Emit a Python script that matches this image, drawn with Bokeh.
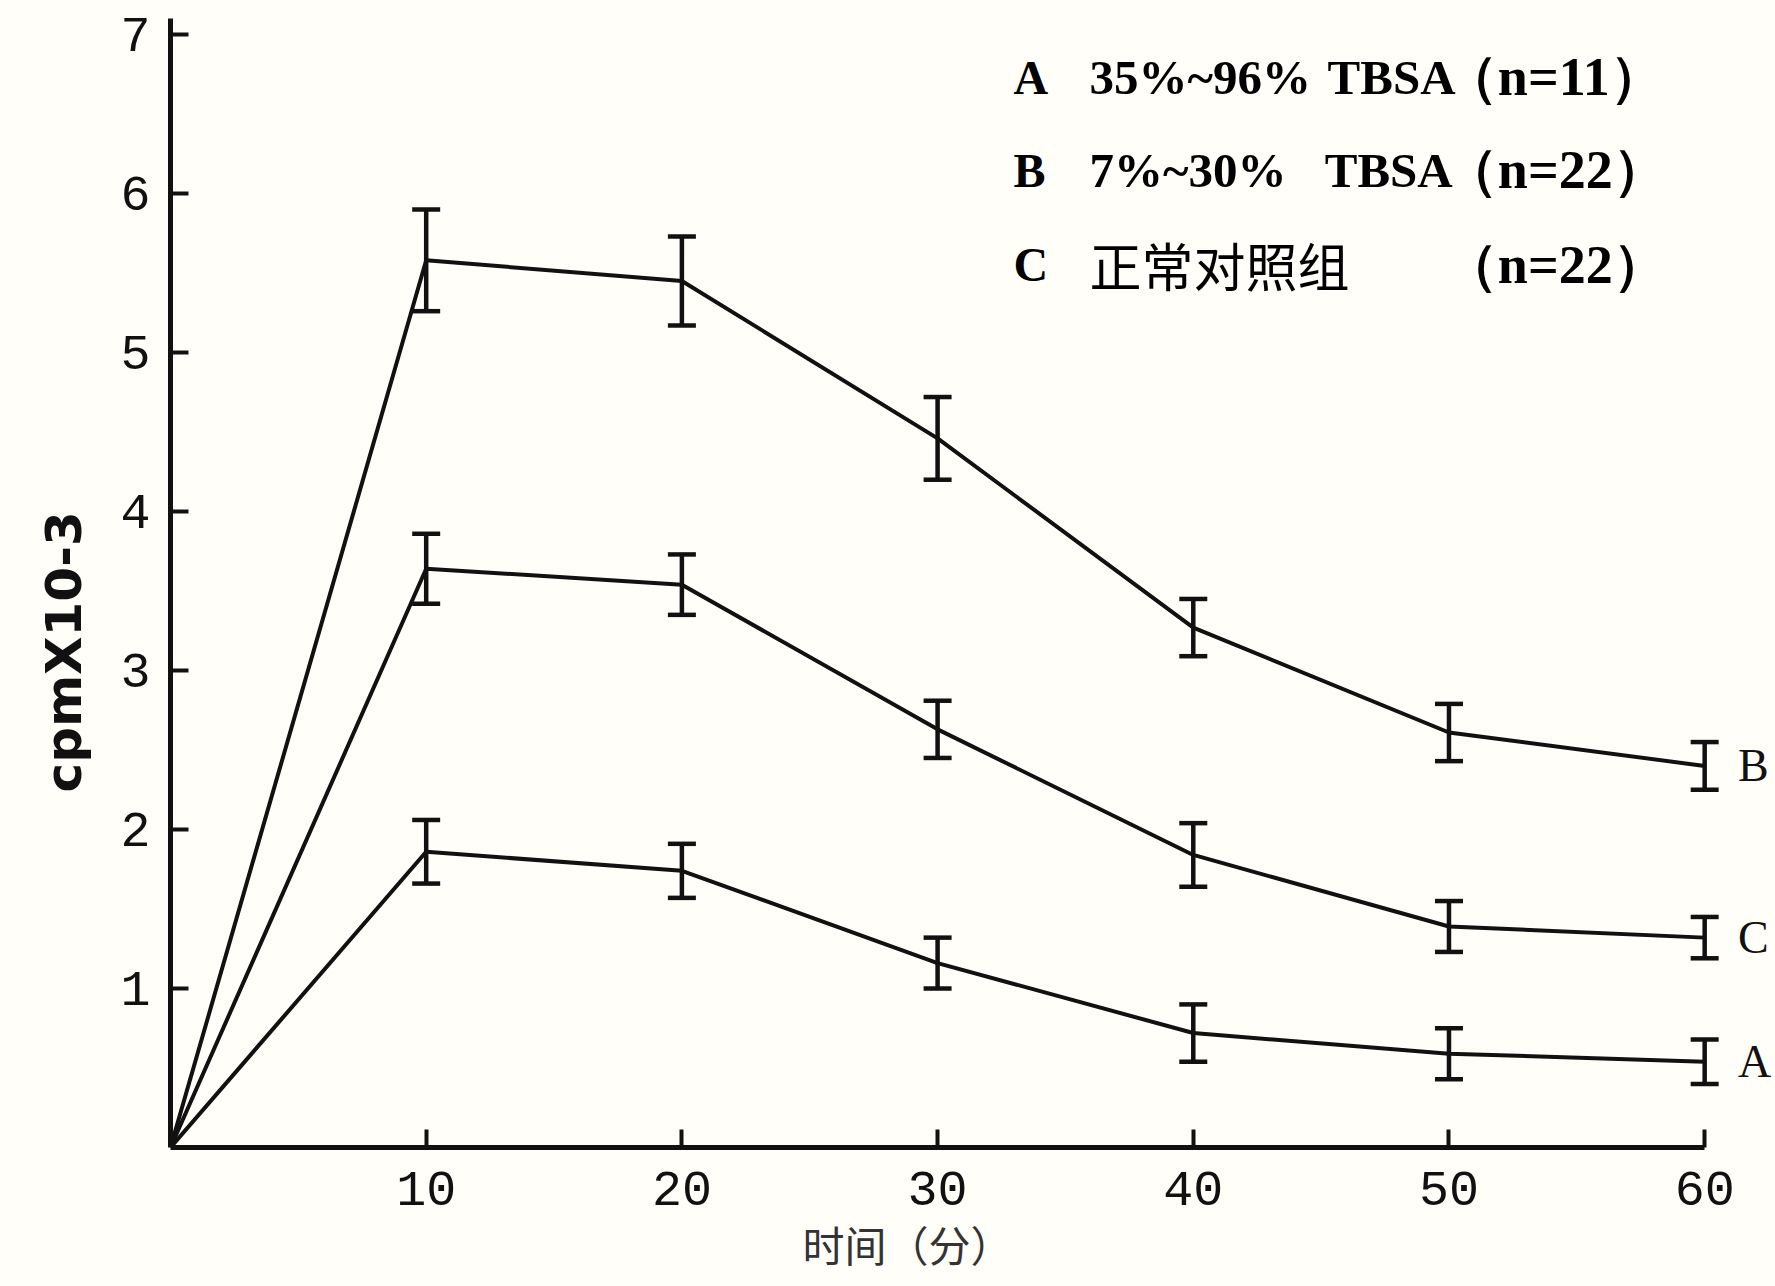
from bokeh.plotting import figure
from bokeh.models import Range1d, FixedTicker, Whisker, TeeHead, ColumnDataSource, Label, Title
from bokeh.embed import file_html
from bokeh.resources import INLINE

# ---- data ----
times = [0, 10, 20, 30, 40, 50, 60]
series_names = ["B", "C", "A"]
b_mean = [0, 5.58, 5.45, 4.46, 3.27, 2.61, 2.40]
b_err = [0, 0.32, 0.28, 0.26, 0.18, 0.18, 0.15]
c_mean = [0, 3.64, 3.54, 2.63, 1.84, 1.39, 1.32]
c_err = [0, 0.22, 0.19, 0.18, 0.20, 0.16, 0.13]
a_mean = [0, 1.86, 1.74, 1.16, 0.72, 0.59, 0.54]
a_err = [0, 0.20, 0.17, 0.16, 0.18, 0.16, 0.14]
x_ticks = [10, 20, 30, 40, 50, 60]
y_ticks = [1, 2, 3, 4, 5, 6, 7]
legend_letters = ["A", "B", "C"]
legend_pct = ["35%~96%", "7%~30%", "正常对照组"]
legend_tbsa = ["TBSA", "TBSA", ""]
legend_n = ["（n=11）", "（n=22）", "（n=22）"]
x_title = "时间（分）"
y_title = "cpmX10-3"

INK = "#111111"
BG = "#fffef9"

p = figure(width=1775, height=1286, output_backend="svg", toolbar_location=None,
           x_range=Range1d(0, 62.77), y_range=Range1d(0, 7.214),
           min_border_left=170, min_border_right=0, min_border_top=0, min_border_bottom=139)
p.background_fill_color = BG
p.border_fill_color = BG
p.outline_line_color = None
p.grid.visible = False

for ax, ticks in ((p.xaxis[0], x_ticks), (p.yaxis[0], y_ticks)):
    ax.ticker = FixedTicker(ticks=ticks)
    ax.minor_tick_line_color = None
    ax.major_tick_in = 18
    ax.major_tick_out = 0
    ax.major_tick_line_width = 4
    ax.major_tick_line_color = INK
    ax.axis_line_width = 5
    ax.axis_line_color = INK
    ax.major_label_text_font = "Liberation Mono"
    ax.major_label_text_color = INK
    ax.major_label_text_font_size = "50px"
p.xaxis[0].bounds = (0, 60)
p.yaxis[0].bounds = (0, 7.1)
p.xaxis[0].major_label_standoff = 24
p.yaxis[0].major_label_standoff = 20

for means, errs in ((b_mean, b_err), (c_mean, c_err), (a_mean, a_err)):
    p.line(times, means, line_color=INK, line_width=4)
    src = ColumnDataSource(dict(x=times[1:],
                                upper=[m + e for m, e in zip(means[1:], errs[1:])],
                                lower=[m - e for m, e in zip(means[1:], errs[1:])]))
    w = Whisker(source=src, base="x", upper="upper", lower="lower", dimension="height",
                line_color=INK, line_width=4.5,
                upper_head=TeeHead(size=28, line_width=4.5, line_color=INK),
                lower_head=TeeHead(size=28, line_width=4.5, line_color=INK))
    p.add_layout(w)

# end labels
for name, means in zip(series_names, (b_mean, c_mean, a_mean)):
    p.add_layout(Label(x=61.3, y=means[-1], text=name, text_font="Liberation Serif",
                       text_font_size="46px", text_color=INK, text_baseline="middle",
                       text_align="left"))

# legend text block
rows_y = [6.73, 6.145, 5.553]
tbsa_x = [45.25, 45.14]
for i in range(3):
    p.add_layout(Label(x=32.97, y=rows_y[i], text=legend_letters[i], text_font="Liberation Serif",
                       text_font_style="bold", text_font_size="48px", text_color="#000000",
                       text_baseline="middle", text_align="left"))
    if i < 2:
        p.add_layout(Label(x=35.94, y=rows_y[i], text=legend_pct[i], text_font="Liberation Serif",
                           text_font_style="bold", text_font_size="49px", text_color="#000000",
                           text_baseline="middle", text_align="left"))
        p.add_layout(Label(x=tbsa_x[i], y=rows_y[i], text=legend_tbsa[i], text_font="Liberation Serif",
                           text_font_style="bold", text_font_size="49px", text_color="#000000",
                           text_baseline="middle", text_align="left"))
    else:
        p.add_layout(Label(x=35.94, y=rows_y[i], text=legend_pct[i], text_font="Noto Sans CJK SC",
                           text_font_size="52px", text_color="#000000",
                           text_baseline="middle", text_align="left"))
    p.add_layout(Label(x=49.8, y=rows_y[i], text=legend_n[i], text_font="Liberation Serif",
                       text_font_style="bold", text_font_size="54px", text_color="#000000",
                       text_baseline="middle", text_align="left"))

# axis titles (outside the frame, as titles of the plot's side panels)
p.add_layout(Title(text=x_title, text_font="Liberation Sans, Noto Sans CJK SC", text_font_size="42px",
                   text_font_style="normal", text_color="#333333", align="left",
                   offset=632, standoff=28), "below")
p.add_layout(Title(text=y_title, text_font="DejaVu Sans", text_font_size="50px",
                   text_font_style="bold", text_color=INK, align="left",
                   offset=355, standoff=50), "left")

open("out.html", "w").write(file_html(p, INLINE))
